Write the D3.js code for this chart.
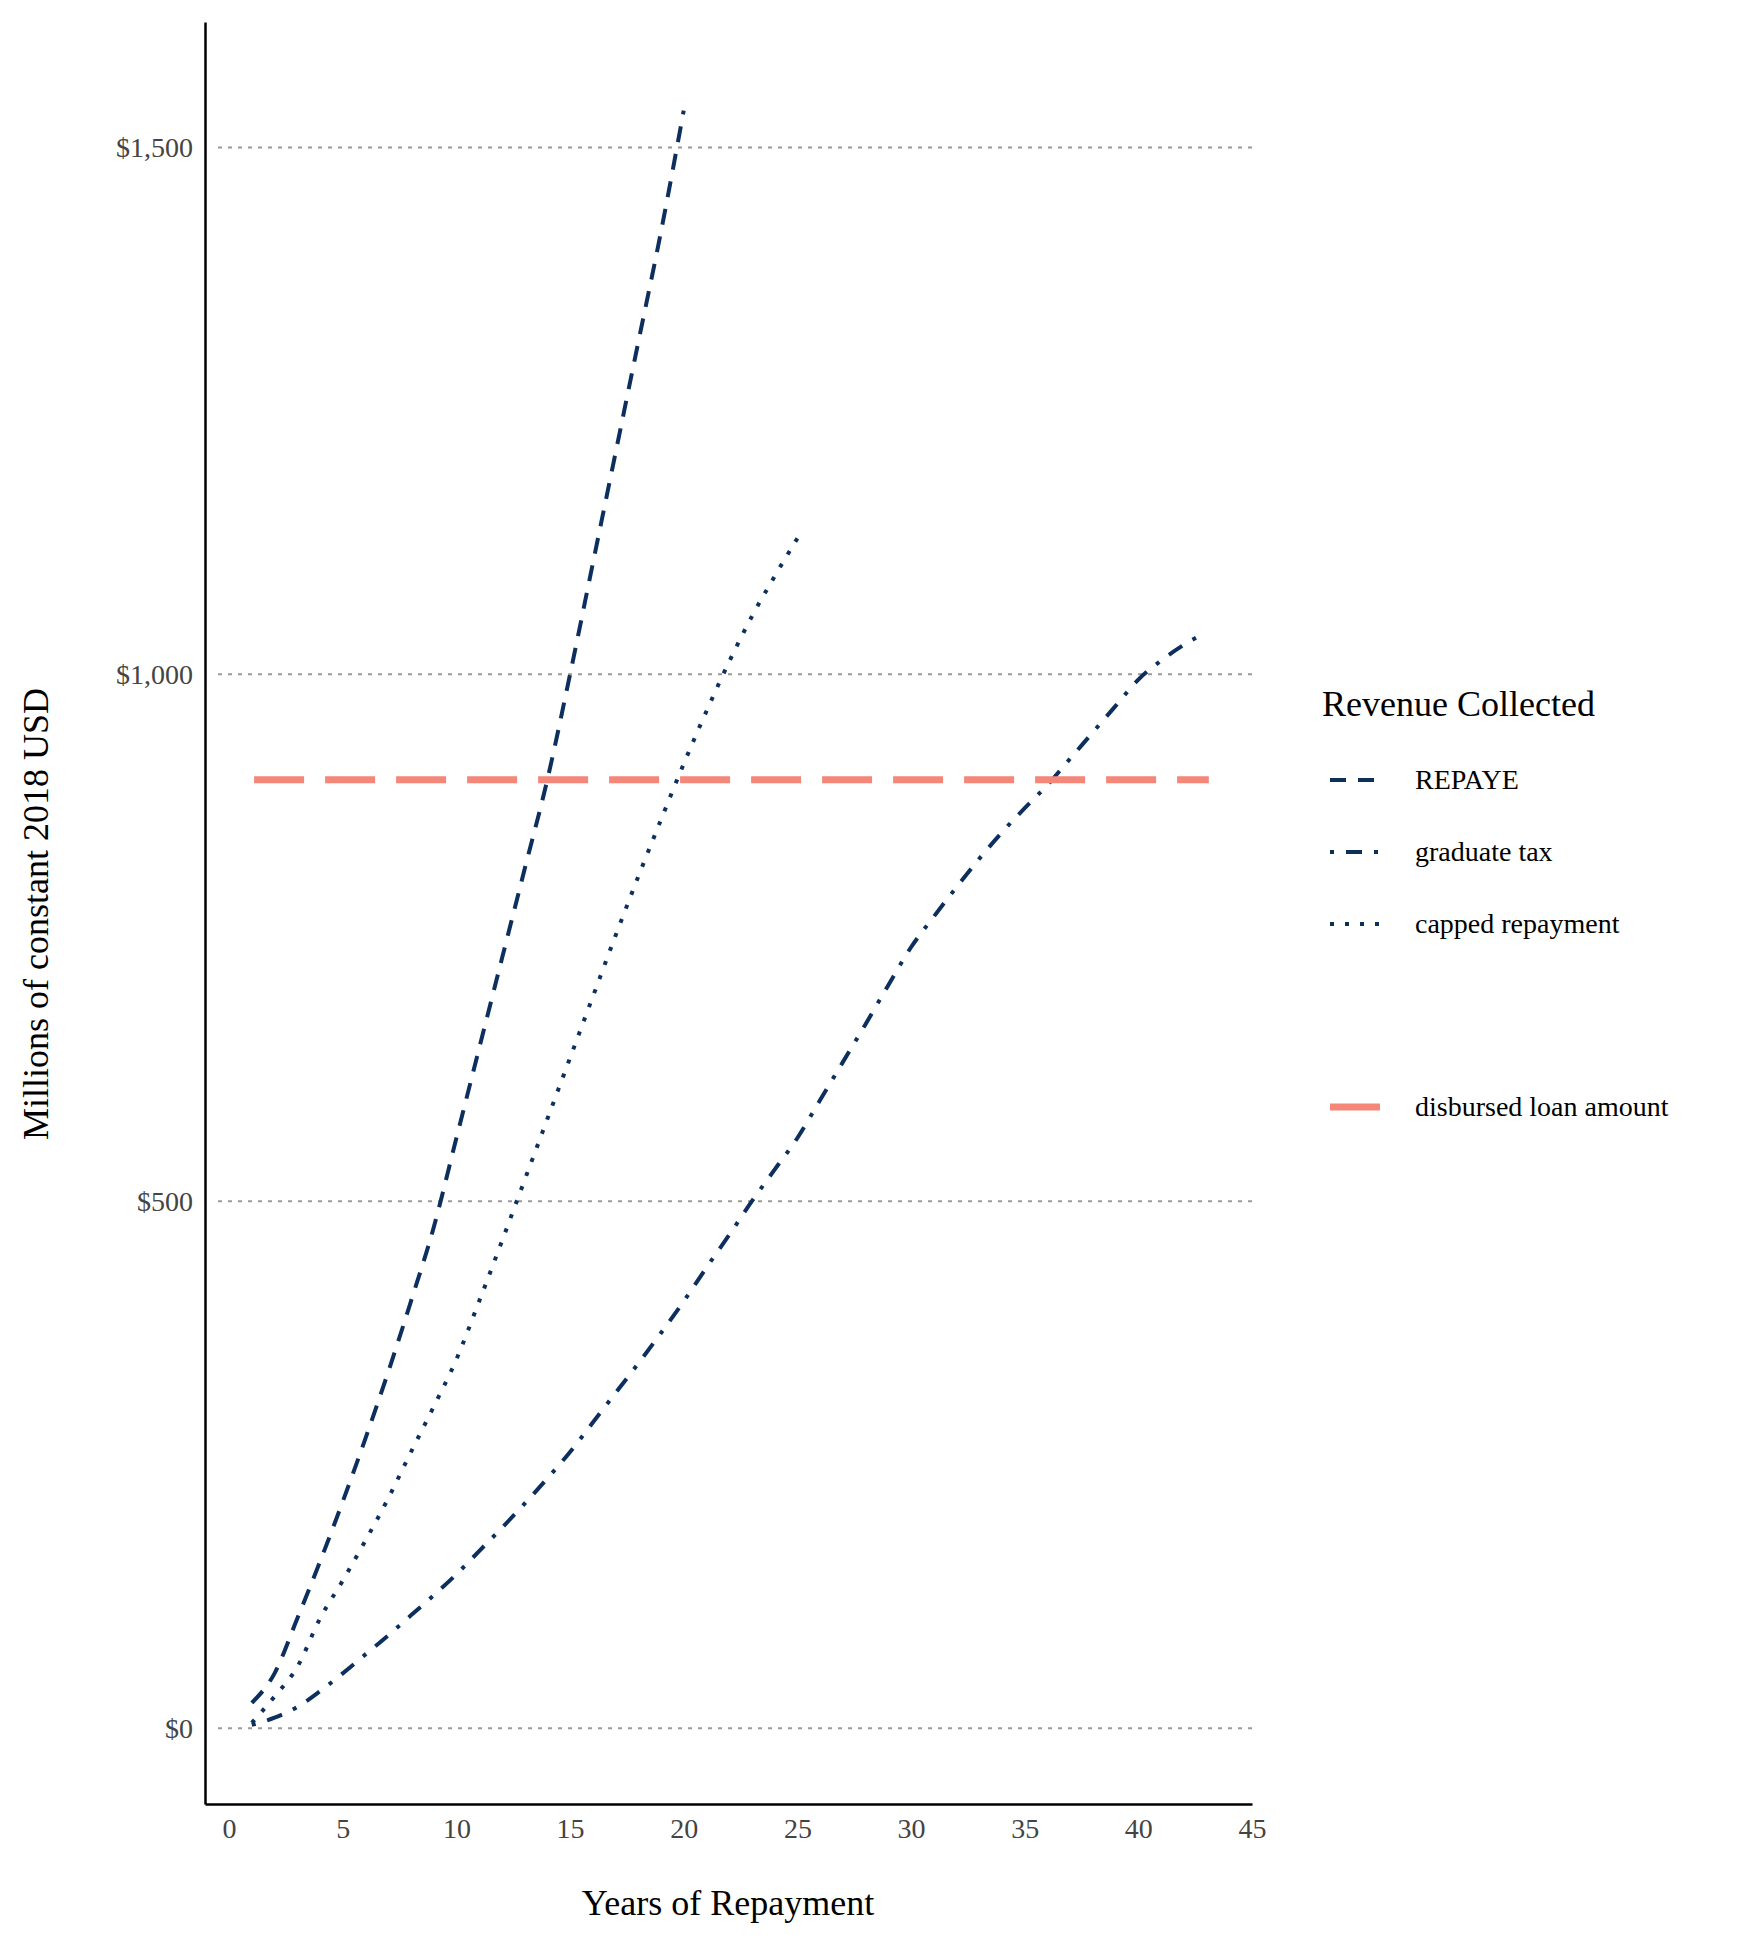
<!DOCTYPE html>
<html>
<head>
<meta charset="utf-8">
<script src="https://cdn.jsdelivr.net/npm/d3@7.9.0/dist/d3.min.js"></script>
<style>
  body { margin: 0; background: #fff; }
  text { font-family: "Liberation Serif", "DejaVu Serif", serif; }
</style>
</head>
<body>
<svg id="chart" width="1754" height="1954"></svg>
<script>
// values (millions of 2018 USD by year of repayment)
const repayeYears = d3.range(1, 21);
const repayeValues = [24, 52, 104, 158, 215, 275, 338, 405, 475, 560, 645, 730, 815, 900, 1000, 1105, 1210, 1315, 1420, 1535];

const gradTaxYears = d3.range(1, 44);
const gradTaxValues = [3, 10, 20, 35, 52, 70, 88, 107, 126, 146, 168, 190, 213, 237, 262, 290, 318, 346, 375, 405,
  437, 468, 500, 530, 560, 596, 632, 668, 705, 741, 770, 798, 825, 850, 873, 895, 920, 945, 970, 995, 1013, 1028, 1040];

const cappedYears = d3.range(1, 26);
const cappedValues = [5, 30, 58, 104, 140, 178, 218, 262, 305, 350, 405, 462, 520, 578, 636, 694, 752, 808, 862, 915,
  965, 1012, 1055, 1093, 1129];

const disbursedYears = [1.1, 43.1];
const disbursedValue = 900;

const xTicks = [0, 5, 10, 15, 20, 25, 30, 35, 40, 45];
const yTicks = [0, 500, 1000, 1500];

const navy = "#0d2f5e";
const salmon = "#f4877a";

const svg = d3.select("#chart");
const x = d3.scaleLinear().domain([-1.06, 45]).range([205, 1252]);
const y = d3.scaleLinear().domain([-72, 1619]).range([1804, 22]);

// gridlines
svg.append("g").selectAll("line").data(yTicks).join("line")
  .attr("x1", 218).attr("x2", 1253)
  .attr("y1", d => y(d)).attr("y2", d => y(d))
  .attr("stroke", "#9a9a9a").attr("stroke-width", 2).attr("stroke-dasharray", "4 6");

// axes
const xAxis = svg.append("g").attr("transform", `translate(0,${y(-72)})`)
  .call(d3.axisBottom(x).tickValues(xTicks).tickSize(0).tickPadding(14));
const yAxis = svg.append("g").attr("transform", `translate(${x(-1.06)},0)`)
  .call(d3.axisLeft(y).tickValues(yTicks).tickSize(0).tickPadding(12)
    .tickFormat(d => "$" + d3.format(",")(d)));
[xAxis, yAxis].forEach(a => {
  a.select(".domain").attr("stroke", "#000").attr("stroke-width", 2.5);
  a.selectAll("text").attr("font-size", 28).attr("fill", "#444")
    .style("font-family", "'Liberation Serif', serif");
});

const line = d3.line().x(d => x(d[0])).y(d => y(d[1])).curve(d3.curveMonotoneX);

const series = [
  { years: repayeYears, values: repayeValues, dash: "16 12" },
  { years: gradTaxYears, values: gradTaxValues, dash: "4 12 16 12" },
  { years: cappedYears, values: cappedValues, dash: "4 11" }
];
series.forEach(s => {
  svg.append("path")
    .datum(d3.zip(s.years, s.values))
    .attr("d", line)
    .attr("fill", "none").attr("stroke", navy).attr("stroke-width", 4)
    .attr("stroke-dasharray", s.dash);
});

svg.append("path")
  .datum(disbursedYears.map(v => [v, disbursedValue]))
  .attr("d", line)
  .attr("fill", "none").attr("stroke", salmon).attr("stroke-width", 7)
  .attr("stroke-dasharray", "50 21");

// axis titles
svg.append("text").attr("x", 728).attr("y", 1915).attr("text-anchor", "middle")
  .attr("font-size", 36).text("Years of Repayment");
svg.append("text").attr("transform", "translate(48,914) rotate(-90)").attr("text-anchor", "middle")
  .attr("font-size", 36).text("Millions of constant 2018 USD");

// legend
const legend = svg.append("g");
legend.append("text").attr("x", 1322).attr("y", 716).attr("font-size", 36).text("Revenue Collected");
const legendItems = [
  { label: "REPAYE", color: navy, width: 4, dash: "16 12", y: 780 },
  { label: "graduate tax", color: navy, width: 4, dash: "4 12 16 12", y: 852 },
  { label: "capped repayment", color: navy, width: 4, dash: "4 11", y: 924 },
  { label: "disbursed loan amount", color: salmon, width: 7, dash: null, y: 1107 }
];
legendItems.forEach(it => {
  legend.append("line").attr("x1", 1330).attr("x2", 1380).attr("y1", it.y).attr("y2", it.y)
    .attr("stroke", it.color).attr("stroke-width", it.width)
    .attr("stroke-dasharray", it.dash);
  legend.append("text").attr("x", 1415).attr("y", it.y + 9).attr("font-size", 28).text(it.label);
});
</script>
</body>
</html>
